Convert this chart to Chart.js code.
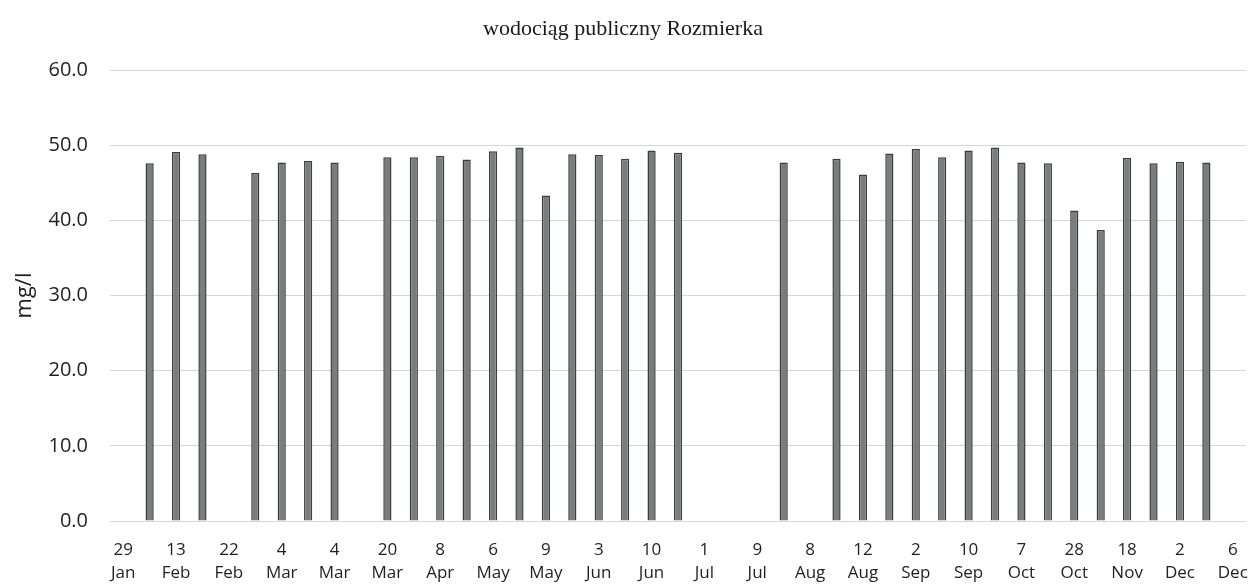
<!DOCTYPE html>
<html>
<head>
<meta charset="utf-8">
<script src="https://cdn.jsdelivr.net/npm/chart.js@4"></script>
<style>
    body { margin: 0; background: #fff; }
    #wrap { width: 1254px; height: 584px; }
</style>
</head>
<body>
<div id="wrap"><canvas id="chart" width="1254" height="584"></canvas></div>
<script>
// sample dates that the x-axis shows (every second sample carries a label)
const tickLabels = ['29 Jan', '13 Feb', '22 Feb', '4 Mar', '4 Mar', '20 Mar', '8 Apr', '6 May', '9 May', '3 Jun',
    '10 Jun', '1 Jul', '9 Jul', '8 Aug', '12 Aug', '2 Sep', '10 Sep', '7 Oct', '28 Oct', '18 Nov', '2 Dec', '6 Dec'];

// nitrate results, mg/l (null = no bar)
const values = [null, 47.6, 49.1, 48.8, null, 46.3, 47.7, 47.9, 47.7, null,
    48.4, 48.4, 48.6, 48.1, 49.2, 49.7, 43.3, 48.8, 48.7, 48.2,
    49.3, 49.0, null, null, null, 47.7, null, 48.2, 46.1, 48.9,
    49.5, 48.4, 49.3, 49.7, 47.7, 47.6, 41.3, 38.7, 48.3, 47.6,
    47.8, 47.7, null];

const yTicks = [0, 10, 20, 30, 40, 50, 60];

class NitrateChart {
    constructor(canvasId) {
        this.ctx = document.getElementById(canvasId).getContext('2d');
        this.categories = this.buildCategories();
        this.create();
    }

    buildCategories() {
        return values.map((v, i) => i % 2 === 0 ? tickLabels[i / 2].split(' ') : '');
    }

    create() {
        const sans = '"Open Sans", sans-serif';
        new Chart(this.ctx, {
            type: 'bar',
            data: {
                labels: this.categories,
                datasets: [{
                    label: 'mg/l',
                    data: values,
                    backgroundColor: '#7a7d7b',
                    borderColor: '#3b3e3c',
                    borderWidth: 1.5,
                    barPercentage: 0.31,
                    categoryPercentage: 1
                }]
            },
            options: {
                responsive: false,
                animation: false,
                layout: { padding: { left: 0, right: 8, top: 0, bottom: 0 } },
                plugins: {
                    legend: { display: false },
                    tooltip: { enabled: false },
                    title: {
                        display: true,
                        text: 'wodociąg publiczny Rozmierka',
                        color: '#1a1a1a',
                        font: { family: '"Liberation Serif", serif', size: 22, weight: 'normal' },
                        padding: { top: 16, bottom: 27.6 }
                    }
                },
                scales: {
                    x: {
                        grid: { display: false, drawTicks: false },
                        border: { display: false },
                        ticks: {
                            autoSkip: false,
                            maxRotation: 0,
                            color: '#1f1f1f',
                            padding: 18,
                            font: { family: sans, size: 17, lineHeight: 1.35 }
                        },
                        afterFit: scale => {
                            scale.height = 63;
                            // let the last date label hang past the plot like in Excel
                            scale.paddingLeft = 0;
                            scale.paddingRight = 0;
                        }
                    },
                    y: {
                        min: yTicks[0],
                        max: yTicks[yTicks.length - 1],
                        afterBuildTicks: scale => { scale.ticks = yTicks.map(v => ({ value: v })); },
                        grid: { color: '#d6d6d6', lineWidth: 1, drawTicks: false },
                        border: { display: false },
                        ticks: {
                            color: '#1f1f1f',
                            padding: 22,
                            font: { family: sans, size: 20 },
                            callback: v => v.toFixed(1)
                        },
                        title: {
                            display: true,
                            text: 'mg/l',
                            color: '#1f1f1f',
                            font: { family: sans, size: 22 },
                            padding: { top: 12, bottom: 0 }
                        },
                        afterFit: scale => { scale.width = 110; }
                    }
                }
            }
        });
    }
}

window.addEventListener('load', () => {
    new NitrateChart('chart');
});
</script>
</body>
</html>
